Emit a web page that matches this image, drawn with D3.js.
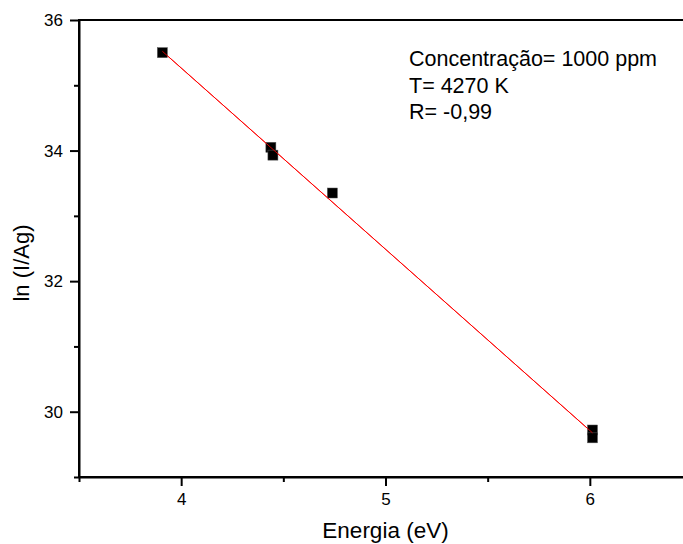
<!DOCTYPE html>
<html>
<head>
<meta charset="utf-8">
<script src="https://cdn.jsdelivr.net/npm/d3@7"></script>
<style>
  html, body { margin: 0; padding: 0; background: #fff; }
  svg { display: block; }
  text { font-family: "Liberation Sans", Arial, sans-serif; fill: #000; }
</style>
</head>
<body>
<svg id="chart" width="683" height="544"></svg>
<script>
// Boltzmann plot: ln(I/Ag) against upper-level energy
const energy = [3.908, 4.439, 4.449, 4.740, 6.013, 6.013];   // eV
const lnIAg  = [35.50, 34.05, 33.93, 33.35, 29.72, 29.60];

const xMajorTicks = [4, 5, 6];
const xMinorTicks = [3.5, 4.5, 5.5, 6.5];
const yMajorTicks = [30, 32, 34, 36];
const yMinorTicks = [29, 31, 33, 35];

const noteLines = ["Concentração= 1000 ppm", "T= 4270 K", "R= -0,99"];
const xTitle = "Energia (eV)";
const yTitle = "ln (I/Ag)";

const svg = d3.select("#chart");
const frame = { left: 79, right: 692, top: 20, bottom: 477 };

const x = d3.scaleLinear().domain([3.5, 6.5]).range([frame.left, frame.right]);
const y = d3.scaleLinear().domain([29, 36]).range([frame.bottom, frame.top]);

// frame (right edge falls past the page width)
svg.append("rect")
  .attr("x", frame.left).attr("y", frame.top)
  .attr("width", frame.right - frame.left)
  .attr("height", frame.bottom - frame.top)
  .attr("fill", "none").attr("stroke", "#000").attr("stroke-width", 2);

function styleAxis(g) {
  g.selectAll("path.domain").attr("stroke", "#000").attr("stroke-width", 2);
  g.selectAll(".tick line").attr("stroke", "#000").attr("stroke-width", 2);
  g.selectAll(".tick text").attr("font-size", 17)
    .attr("font-family", "'Liberation Sans', Arial, sans-serif").attr("fill", "#000");
}

// x axis
svg.append("g")
  .attr("transform", `translate(0,${frame.bottom})`)
  .call(d3.axisBottom(x).tickValues(xMinorTicks).tickSize(5).tickSizeOuter(0).tickFormat(""))
  .call(styleAxis);
svg.append("g")
  .attr("transform", `translate(0,${frame.bottom})`)
  .call(d3.axisBottom(x).tickValues(xMajorTicks).tickSize(9).tickSizeOuter(0).tickPadding(7).tickFormat(d3.format("d")))
  .call(styleAxis)
  .call(g => g.select("path.domain").remove());

// y axis
svg.append("g")
  .attr("transform", `translate(${frame.left},0)`)
  .call(d3.axisLeft(y).tickValues(yMinorTicks).tickSize(5).tickSizeOuter(0).tickFormat(""))
  .call(styleAxis);
svg.append("g")
  .attr("transform", `translate(${frame.left},0)`)
  .call(d3.axisLeft(y).tickValues(yMajorTicks).tickSize(9).tickSizeOuter(0).tickPadding(7).tickFormat(d3.format("d")))
  .call(styleAxis)
  .call(g => g.select("path.domain").remove());

// axis titles
svg.append("text")
  .attr("x", (frame.left + frame.right) / 2).attr("y", 538)
  .attr("text-anchor", "middle").attr("font-size", 22.5)
  .text(xTitle);
svg.append("text")
  .attr("transform", "translate(29,263) rotate(-90)")
  .attr("text-anchor", "middle").attr("font-size", 22)
  .text(yTitle);

// least-squares line through the points
const pts = energy.map((e, i) => [e, lnIAg[i]]);
const mx = d3.mean(energy), my = d3.mean(lnIAg);
const slope = d3.sum(pts, p => (p[0] - mx) * (p[1] - my)) / d3.sum(pts, p => (p[0] - mx) ** 2);
const icpt = my - slope * mx;
const [xMin, xMax] = d3.extent(energy);
const fitLine = [xMin, xMax].map(e => [e, icpt + slope * e]);
const lineGen = d3.line().x(d => x(d[0])).y(d => y(d[1]));

svg.append("path")
  .datum(fitLine)
  .attr("d", lineGen)
  .attr("fill", "none").attr("stroke", "#ff0000").attr("stroke-width", 1);

// square markers
const ms = 10;
svg.append("g").selectAll("rect")
  .data(pts)
  .join("rect")
  .attr("x", d => x(d[0]) - ms / 2).attr("y", d => y(d[1]) - ms / 2)
  .attr("width", ms).attr("height", ms)
  .attr("fill", "#000").attr("stroke", "#555").attr("stroke-width", 0.5);

// the red line is drawn over the markers too
svg.append("path")
  .datum(fitLine)
  .attr("d", lineGen)
  .attr("fill", "none").attr("stroke", "#ff0000").attr("stroke-width", 1)
  .attr("stroke-opacity", 0.8);

// annotation
svg.append("g").selectAll("text")
  .data(noteLines)
  .join("text")
  .attr("x", 409).attr("y", (d, i) => 66 + i * 26.5)
  .attr("font-size", 21.5)
  .text(d => d);
</script>
</body>
</html>
